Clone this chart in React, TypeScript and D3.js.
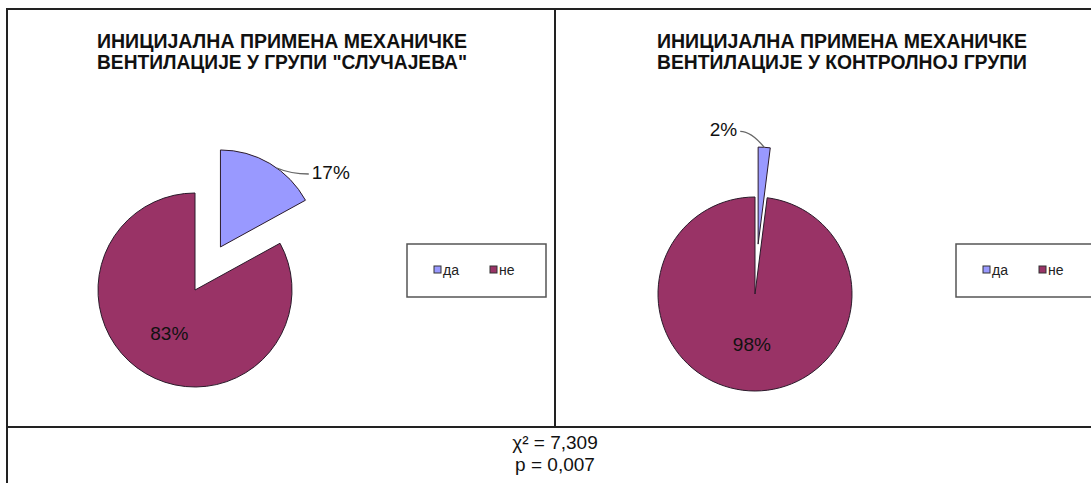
import React, { useEffect, useRef } from "react";
import * as d3 from "d3";

const categories = ["да", "не"];
const caseValues = [17, 83];
const controlValues = [2, 98];
const caseTitle = ["ИНИЦИЈАЛНА ПРИМЕНА МЕХАНИЧКЕ", "ВЕНТИЛАЦИЈЕ У ГРУПИ \"СЛУЧАЈЕВА\""];
const controlTitle = ["ИНИЦИЈАЛНА ПРИМЕНА МЕХАНИЧКЕ", "ВЕНТИЛАЦИЈЕ У КОНТРОЛНОЈ ГРУПИ"];
const statLines = ["χ² = 7,309", "p = 0,007"];

const colors = ["#9999FF", "#993366"];
const font = "Arial, 'Liberation Sans', sans-serif";

const App = () => {
  const ref = useRef<SVGSVGElement>(null);

  useEffect(() => {
    const width = 1091;
    const height = 483;
    const svg = d3.select(ref.current).attr("width", width).attr("height", height);
    svg.selectAll("*").remove();

    svg.append("rect").attr("width", width).attr("height", height).attr("fill", "#fff");

    // panel frames
    const frame = svg.append("g").attr("fill", "none").attr("stroke", "#222").attr("stroke-width", 2);
    frame.append("rect").attr("x", 7).attr("y", 9).attr("width", 548).attr("height", 418);
    frame.append("rect").attr("x", 555).attr("y", 9).attr("width", 560).attr("height", 418);
    frame.append("line").attr("x1", 7).attr("x2", 7).attr("y1", 427).attr("y2", 490);

    const radius = 97;
    const explode = 50;
    const pie = d3.pie<number>().sort(null).value((d) => d);
    const arc = d3.arc<d3.PieArcDatum<number>>().innerRadius(0).outerRadius(radius);

    const drawPanel = (
      values: number[],
      title: string[],
      cx: number,
      cy: number,
      titleX: number,
      leader: { angle: number; elbow: [number, number]; end: [number, number]; anchor: string },
      legendX: number
    ) => {
      const g = svg.append("g");

      title.forEach((t, i) => {
        g.append("text")
          .attr("x", titleX)
          .attr("y", 48 + i * 21)
          .attr("text-anchor", "middle")
          .attr("font-family", font)
          .attr("font-weight", "bold")
          .attr("font-size", 21)
          .attr("textLength", 370)
          .attr("lengthAdjust", "spacingAndGlyphs")
          .attr("fill", "#111")
          .text(t);
      });

      const arcs = pie(values);
      arcs.forEach((a, i) => {
        const mid = (a.startAngle + a.endAngle) / 2;
        const off = i === 0 ? explode : 0;
        const ox = cx + Math.sin(mid) * off;
        const oy = cy - Math.cos(mid) * off;
        g.append("path")
          .attr("d", arc(a))
          .attr("transform", `translate(${ox},${oy})`)
          .attr("fill", colors[i])
          .attr("stroke", "#2a1a2a")
          .attr("stroke-width", 1);

        if (i === 0) {
          // outside label with leader line
          const ang = a.startAngle + (a.endAngle - a.startAngle) * leader.angle;
          const px = ox + Math.sin(ang) * radius;
          const py = oy - Math.cos(ang) * radius;
          const ex = px + leader.end[0];
          const ey = py + leader.end[1];
          const qx = px + leader.elbow[0];
          const qy = py + leader.elbow[1];
          g.append("path")
            .attr("d", `M${px},${py} Q${qx},${qy} ${ex},${ey}`)
            .attr("fill", "none")
            .attr("stroke", "#666")
            .attr("stroke-width", 1.3);
          g.append("text")
            .attr("x", ex + (leader.anchor === "start" ? 3 : -3))
            .attr("y", ey + 5)
            .attr("text-anchor", leader.anchor)
            .attr("font-family", font)
            .attr("font-size", 19)
            .attr("fill", "#111")
            .text(`${values[i]}%`);
        } else {
          const lx = ox + Math.sin(mid) * radius * 0.52;
          const ly = oy - Math.cos(mid) * radius * 0.52;
          g.append("text")
            .attr("x", lx)
            .attr("y", ly + 7)
            .attr("text-anchor", "middle")
            .attr("font-family", font)
            .attr("font-size", 19)
            .attr("fill", "#111")
            .text(`${values[i]}%`);
        }
      });

      // legend
      const lg = g.append("g").attr("transform", `translate(${legendX},244)`);
      lg.append("rect")
        .attr("width", 139)
        .attr("height", 53)
        .attr("fill", "#fff")
        .attr("stroke", "#555")
        .attr("stroke-width", 1.5);
      categories.forEach((c, i) => {
        const x = 27 + i * 56;
        lg.append("rect")
          .attr("x", x)
          .attr("y", 22)
          .attr("width", 7)
          .attr("height", 7)
          .attr("fill", colors[i])
          .attr("stroke", "#333")
          .attr("stroke-width", 1);
        lg.append("text")
          .attr("x", x + 9)
          .attr("y", 31)
          .attr("font-family", font)
          .attr("font-size", 14)
          .attr("fill", "#222")
          .text(c);
      });
    };

    drawPanel(
      caseValues,
      caseTitle,
      195,
      290,
      282,
      { angle: 0.58, elbow: [14, 6], end: [32, 6], anchor: "start" },
      407
    );
    drawPanel(
      controlValues,
      controlTitle,
      755,
      294,
      842,
      { angle: 0.5, elbow: [-13, -16], end: [-24, -16], anchor: "end" },
      956
    );

    statLines.forEach((t, i) => {
      svg.append("text")
        .attr("x", 555)
        .attr("y", 449 + i * 22)
        .attr("text-anchor", "middle")
        .attr("font-family", font)
        .attr("font-size", 19)
        .attr("fill", "#111")
        .text(t);
    });
  }, []);

  return (
    <svg ref={ref} style={{ position: "absolute", left: 0, top: 0, display: "block" }}></svg>
  );
};

export default App;
